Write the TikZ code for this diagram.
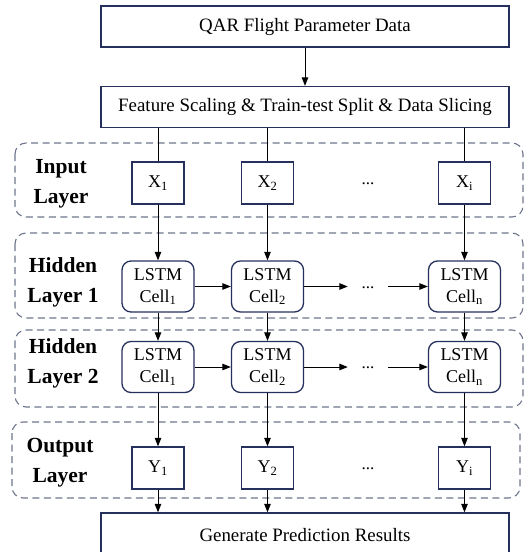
\documentclass[tikz,border=0pt]{standalone}
\usepackage{fontspec}
\setmainfont{Liberation Serif}
\definecolor{BoxNavy}{RGB}{38, 48, 92}
\definecolor{LayerGray}{RGB}{110, 118, 140}
\usetikzlibrary{arrows.meta, positioning, shapes, calc}

\tikzset{
    procbox/.style={draw=BoxNavy, line width=1.3pt, minimum width=408pt, minimum height=41pt, inner sep=0pt, font=\fontsize{18.9}{22}\selectfont},
    vecbox/.style={draw=BoxNavy, line width=1.3pt, minimum width=52pt, minimum height=42pt, inner sep=0pt, font=\fontsize{18}{21}\selectfont},
    cellbox/.style={draw=BoxNavy, line width=1.3pt, rounded corners=9pt, minimum width=72pt, minimum height=51pt, inner sep=0pt, align=center, font=\fontsize{18}{22}\selectfont},
    layerbox/.style={draw=LayerGray, line width=1.1pt, dash pattern=on 7pt off 4.5pt, rounded corners=11pt},
    layerlabel/.style={align=center, inner sep=0pt, font=\fontsize{21.5}{30}\selectfont\bfseries},
    dotsnode/.style={minimum width=40pt, inner sep=0pt, font=\fontsize{17}{20}\selectfont},
    arr/.style={line width=1pt, -{Triangle[length=8.5pt, width=6.5pt]}}
}

\begin{document}
\begin{tikzpicture}[x=1pt, y=-1pt]
            \useasboundingbox (0,0) rectangle (527,552);

            % Preprocessing
            \node[procbox] (qar) at (305,26.5) {QAR Flight Parameter Data};
            \node[procbox] (prep) at (305,107) {Feature Scaling \& Train-test Split \& Data Slicing};
            \draw[arr] (qar) -- (prep);

            % Layer frames
            \draw[layerbox] (15,143) rectangle (523,217);
            \draw[layerbox] (15,233) rectangle (523,318);
            \draw[layerbox] (15,330) rectangle (523,407);
            \draw[layerbox] (12,422) rectangle (520,498);

            \node[layerlabel] (lblin) at (61,184) {Input\\Layer};
            \node[layerlabel] (lblhone) at (63,282) {Hidden\\Layer 1};
            \node[layerlabel] (lblhtwo) at (63,363) {Hidden\\Layer 2};
            \node[layerlabel] (lblout) at (60,463) {Output\\Layer};

            % Output
            \node[procbox, minimum height=44pt] (gen) at (305,535) {Generate Prediction Results};

            % Columns
            \foreach \c/\x/\s/\n in {1/158/1/1, 2/267.5/2/2, 3/464.5/i/n} {
                \node[vecbox] (x\c) at (\x,183) {X\textsubscript{\s}};
                \node[cellbox] (ha\c) at (\x,286.5) {LSTM\\Cell\textsubscript{\n}};
                \node[cellbox] (hb\c) at (\x,367) {LSTM\\Cell\textsubscript{\n}};
                \node[vecbox] (y\c) at (\x,468) {Y\textsubscript{\s}};
                \draw[line width=1pt] (prep.south -| x\c) -- (x\c);
                \draw[arr] (x\c) -- (ha\c);
                \draw[arr] (ha\c) -- (hb\c);
                \draw[arr] (hb\c) -- (y\c);
                \draw[arr] (y\c) -- (gen.north -| y\c);
            }

            % Ellipses
            \node[dotsnode] (xd) at (368,184) {...};
            \node[dotsnode] (had) at (368,287.5) {...};
            \node[dotsnode] (hbd) at (368,368) {...};
            \node[dotsnode] (yd) at (368,469) {...};

            \draw[arr] (ha1) -- (ha2);
            \draw[arr] (ha2) -- (had.west |- ha2);
            \draw[arr] (had.east |- ha3) -- (ha3);
            \draw[arr] (hb1) -- (hb2);
            \draw[arr] (hb2) -- (hbd.west |- hb2);
            \draw[arr] (hbd.east |- hb3) -- (hb3);
\end{tikzpicture}
\end{document}
